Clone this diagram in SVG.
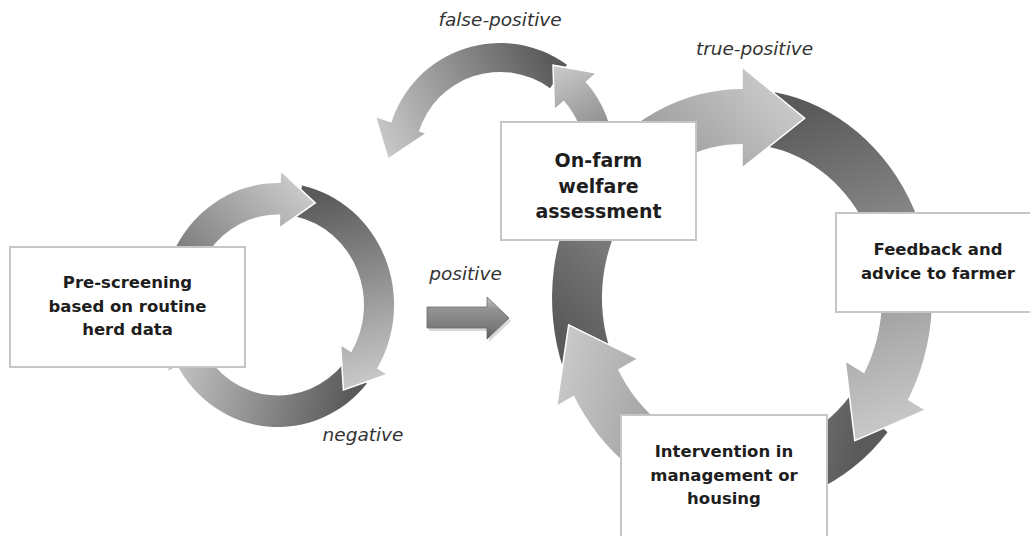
<svg xmlns="http://www.w3.org/2000/svg" width="1030" height="536" viewBox="0 0 1030 536">
<defs>
<style>
.box{fill:#fff;stroke:#c6c6c6;stroke-width:2}
.t{font-family:"DejaVu Sans",Verdana,sans-serif;font-weight:bold;font-size:16.5px;fill:#1e1e1e;text-anchor:middle}
.big{font-size:19px}
.lbl{font-family:"DejaVu Sans",Verdana,sans-serif;font-style:italic;font-size:18.5px;fill:#333;text-anchor:middle}
.head{stroke:#fff;stroke-width:1.5;vector-effect:non-scaling-stroke;stroke-linejoin:miter}
</style>
<linearGradient id="gA" gradientUnits="userSpaceOnUse" x1="-94.9" y1="34.5" x2="37" y2="-97"><stop offset="0" stop-color="#5a5a5a"/><stop offset="1" stop-color="#c9c9c9"/></linearGradient>
<linearGradient id="gB" gradientUnits="userSpaceOnUse" x1="21" y1="-98.8" x2="65.4" y2="80.8"><stop offset="0" stop-color="#5a5a5a"/><stop offset="1" stop-color="#c9c9c9"/></linearGradient>
<linearGradient id="gC" gradientUnits="userSpaceOnUse" x1="77.4" y1="64.9" x2="-102.4" y2="18.1"><stop offset="0" stop-color="#5a5a5a"/><stop offset="1" stop-color="#c9c9c9"/></linearGradient>
<linearGradient id="gT" gradientUnits="userSpaceOnUse" x1="-155" y1="56.4" x2="62.7" y2="-163.4"><stop offset="0" stop-color="#5a5a5a"/><stop offset="1" stop-color="#c9c9c9"/></linearGradient>
<linearGradient id="gR" gradientUnits="userSpaceOnUse" x1="28.6" y1="-162.5" x2="112.8" y2="129.8"><stop offset="0" stop-color="#5a5a5a"/><stop offset="1" stop-color="#c9c9c9"/></linearGradient>
<linearGradient id="gBL" gradientUnits="userSpaceOnUse" x1="126.4" y1="106" x2="-173.3" y2="24.4"><stop offset="0" stop-color="#5a5a5a"/><stop offset="1" stop-color="#c9c9c9"/></linearGradient>
<linearGradient id="gFP" gradientUnits="userSpaceOnUse" x1="58.5" y1="-80.5" x2="-112" y2="2"><stop offset="0" stop-color="#5a5a5a"/><stop offset="1" stop-color="#c9c9c9"/></linearGradient>
<linearGradient id="gSU" gradientUnits="userSpaceOnUse" x1="99.5" y1="0" x2="53" y2="-91.8"><stop offset="0" stop-color="#7a7a7a"/><stop offset="1" stop-color="#cccccc"/></linearGradient>
<linearGradient id="gPos" x1="0" y1="0" x2="0" y2="1"><stop offset="0" stop-color="#c4c4c4"/><stop offset="0.3" stop-color="#929292"/><stop offset="0.7" stop-color="#7c7c7c"/><stop offset="1" stop-color="#5c5c5c"/></linearGradient>
</defs>

<g id="connectors">
  <g id="loop-false-positive" transform="translate(500 157)">
    <path fill="url(#gFP)" d="M67 -92.2 A114 114 0 0 0 -109 -33.3 L-81.3 -24.9 A85 85 0 0 1 50 -68.8 Z"/>
    <path class="head" fill="url(#gFP)" d="M-80.8 -26.3 L-73.2 -23.8 L-112 2 L-124.6 -40.5 L-108.4 -35.2"/>
    <path fill="url(#gSU)" d="M114 0 A114 114 0 0 0 84.7 -76.3 L63.2 -56.9 A85 85 0 0 1 85 0 Z"/>
    <path class="head" fill="url(#gSU)" d="M64.1 -55.8 L54.3 -47.2 L53 -91.8 L96.6 -84 L86 -74.8"/>
  </g>
  <g id="cycle-left" transform="translate(278 305) scale(1 1.052)">
    <path fill="url(#gA)" d="M-109 39.7 A116 116 0 0 1 4.05 -115.93 L3 -85.95 A86 86 0 0 0 -80.8 29.4 Z"/>
    <path fill="url(#gB)" d="M24.1 -113.5 A116 116 0 0 1 98.4 61.5 L72.9 45.6 A86 86 0 0 0 17.9 -84.1 Z"/>
    <path fill="url(#gC)" d="M88.9 74.6 A116 116 0 0 1 -101.5 56.2 L-75.2 41.7 A86 86 0 0 0 65.9 55.3 Z"/>
    <path class="head" fill="url(#gA)" d="M1.5 -85.99 L1.27 -72.99 L37.27 -97.09 L2.23 -127.98 L2.02 -115.98"/>
    <path class="head" fill="url(#gB)" d="M73.7 44.3 L62.6 37.6 L65.4 80.8 L109.7 65.9 L99.4 59.7"/>
    <path class="head" fill="url(#gC)" d="M-74.5 43 L-63.2 36.5 L-102.4 18.1 L-110.8 64 L-100.5 58"/>
  </g>
  <g id="cycle-right" transform="translate(742 298) scale(1 1.1)">
    <path fill="url(#gT)" d="M-178.5 65 A190 190 0 0 1 3.3 -189.97 L2.44 -139.98 A140 140 0 0 0 -131.6 47.9 Z"/>
    <path fill="url(#gR)" d="M33 -187.1 A190 190 0 0 1 164.5 95 L121.2 70 A140 140 0 0 0 24.3 -137.9 Z"/>
    <path fill="url(#gBL)" d="M145.5 122.1 A190 190 0 0 1 -169.3 86.3 L-124.7 63.6 A140 140 0 0 0 107.2 90 Z"/>
    <path class="head" fill="url(#gT)" d="M0 -140 L0 -118 L62.7 -163.4 L0 -210 L0 -190"/>
    <path class="head" fill="url(#gR)" d="M122.4 67.9 L103.2 57.2 L112.8 129.8 L183.7 101.8 L166.2 92.1"/>
    <path class="head" fill="url(#gBL)" d="M-123.6 65.7 L-104.2 55.4 L-173.3 24.4 L-185.4 98.6 L-167.8 89.2"/>
  </g>
  <g id="arrow-positive">
    <path transform="translate(2 3)" fill="#000" opacity="0.15" d="M427 307 L487 307 L487 297 L509 318 L487 339 L487 328 L427 328 Z"/>
    <path fill="url(#gPos)" stroke="#6a6a6a" stroke-width="0.8" d="M427 307 L487 307 L487 297 L509 318 L487 339 L487 328 L427 328 Z"/>
  </g>
  <g id="labels">
    <text class="lbl" x="500" y="26">false-positive</text>
    <text class="lbl" x="754.5" y="55">true-positive</text>
    <text class="lbl" x="465.5" y="280">positive</text>
    <text class="lbl" x="363" y="441">negative</text>
  </g>
</g>

<g id="node-prescreening">
  <rect class="box" x="10" y="247" width="235" height="120"/>
  <text class="t" x="127.5" y="288">Pre-screening</text>
  <text class="t" x="127.5" y="312">based on routine</text>
  <text class="t" x="127.5" y="335">herd data</text>
</g>
<g id="node-onfarm">
  <rect class="box" x="501" y="122" width="195" height="118"/>
  <text class="t big" x="598.5" y="167">On-farm</text>
  <text class="t big" x="598.5" y="193">welfare</text>
  <text class="t big" x="598.5" y="218">assessment</text>
</g>
<g id="node-feedback">
  <rect class="box" x="836" y="213" width="204" height="99"/>
  <text class="t" x="938" y="255">Feedback and</text>
  <text class="t" x="938" y="279">advice to farmer</text>
</g>
<g id="node-intervention">
  <rect class="box" x="621" y="415" width="206" height="130"/>
  <text class="t" x="724" y="457">Intervention in</text>
  <text class="t" x="724" y="481">management or</text>
  <text class="t" x="724" y="504">housing</text>
</g>
</svg>
